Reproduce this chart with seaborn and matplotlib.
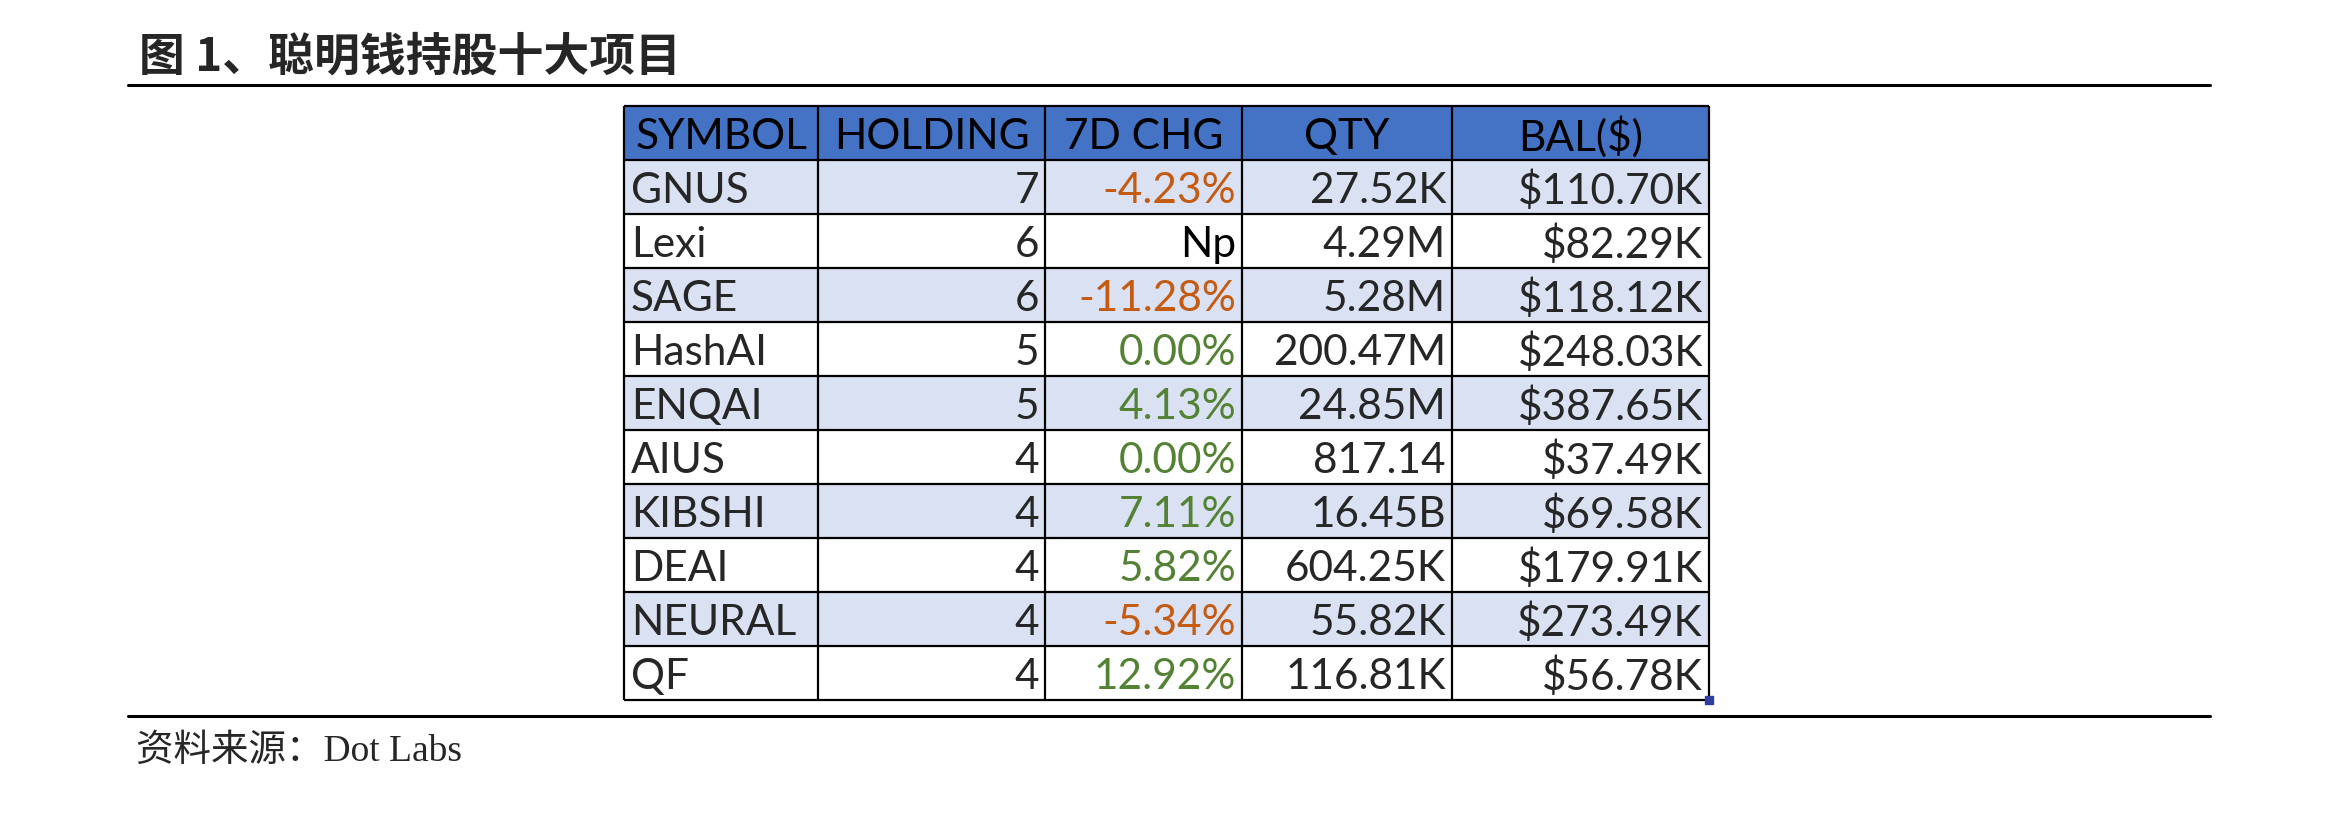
import numpy as np
import pandas as pd
import matplotlib.pyplot as plt
from matplotlib.colors import ListedColormap
from matplotlib.lines import Line2D
import seaborn as sns

sns.set_theme(style="white")
plt.rcParams['font.family'] = ['Lato', 'Noto Sans CJK SC', 'DejaVu Sans']

# ── Data ──────────────────────────────────────────────────────────────────────
headers  = ['SYMBOL', 'HOLDING', '7D CHG', 'QTY', 'BAL($)']
symbols  = ['GNUS', 'Lexi', 'SAGE', 'HashAI', 'ENQAI', 'AIUS', 'KIBSHI', 'DEAI', 'NEURAL', 'QF']
holding  = [7, 6, 6, 5, 5, 4, 4, 4, 4, 4]
chg_7d   = [-4.23, None, -11.28, 0.00, 4.13, 0.00, 7.11, 5.82, -5.34, 12.92]
qty      = ['27.52K', '4.29M', '5.28M', '200.47M', '24.85M', '817.14', '16.45B',
            '604.25K', '55.82K', '116.81K']
balance  = ['$110.70K', '$82.29K', '$118.12K', '$248.03K', '$387.65K', '$37.49K',
            '$69.58K', '$179.91K', '$273.49K', '$56.78K']

title  = '图 1、聪明钱持股十大项目'
source = '资料来源：Dot Labs'

# ── Styles ────────────────────────────────────────────────────────────────────
HEAD_BLUE = '#4472C4'
STRIPE    = '#D9E1F2'
NEG_COL   = '#C55A11'
POS_COL   = '#548235'
col_px    = [194, 227, 197, 210, 257]   # column widths (pixels)
FS        = 30.5

W, H = 2340, 820
fig = plt.figure(figsize=(W / 100, H / 100), dpi=100)

# table axes (pixel box 624..1709 x 107..701)
ax = fig.add_axes([624 / W, 1 - 701 / H, 1085 / W, 594 / H])

n_rows = len(symbols) + 1
fill = np.array([[2] * sum(col_px)] +
                [[1 if i % 2 == 0 else 0] * sum(col_px) for i in range(len(symbols))])
sns.heatmap(pd.DataFrame(fill), ax=ax, cmap=ListedColormap(['white', STRIPE, HEAD_BLUE]),
            vmin=0, vmax=2, cbar=False, xticklabels=False, yticklabels=False)

edges = np.concatenate([[0], np.cumsum(col_px)])
ax.vlines(edges, 0, n_rows, colors='black', lw=1.6, clip_on=False)
ax.hlines(np.arange(n_rows + 1), 0, edges[-1], colors='black', lw=1.6, clip_on=False)

# header
for j, h in enumerate(headers):
    ax.text((edges[j] + edges[j + 1]) / 2, 0.56, h, ha='center', va='center',
            fontsize=FS, color='black')

# body
for i in range(len(symbols)):
    y = i + 1.56
    ax.text(edges[0] + 7, y, symbols[i], ha='left', va='center', fontsize=FS)
    ax.text(edges[2] - 6, y, str(holding[i]), ha='right', va='center', fontsize=FS)
    v = chg_7d[i]
    if v is None:
        s, c = 'Np', 'black'
    else:
        s, c = f'{v:.2f}%', NEG_COL if v < 0 else POS_COL
    ax.text(edges[3] - 6, y, s, ha='right', va='center', fontsize=FS, color=c)
    ax.text(edges[4] - 6, y, qty[i], ha='right', va='center', fontsize=FS)
    ax.text(edges[5] - 6, y, balance[i], ha='right', va='center', fontsize=FS)

# excel selection handle at bottom-right
ax.plot([edges[-1]], [n_rows], marker='s', ms=6, color='#2F3E9E', clip_on=False)

# ── Title, rules, source ─────────────────────────────────────────────────────
fig.text(139 / W, 1 - 58 / H, title, ha='left', va='center', fontsize=33,
         fontweight='bold', family=['Noto Sans CJK SC', 'DejaVu Sans'])
for yy in (86, 717):
    fig.add_artist(Line2D([128 / W, 2210 / W], [1 - yy / H, 1 - yy / H],
                          color='black', lw=2.2))
fig.text(136 / W, 1 - 752 / H, source, ha='left', va='center', fontsize=27,
         family=['Liberation Serif', 'Noto Sans CJK SC'])

plt.savefig('out.png', dpi=100)
